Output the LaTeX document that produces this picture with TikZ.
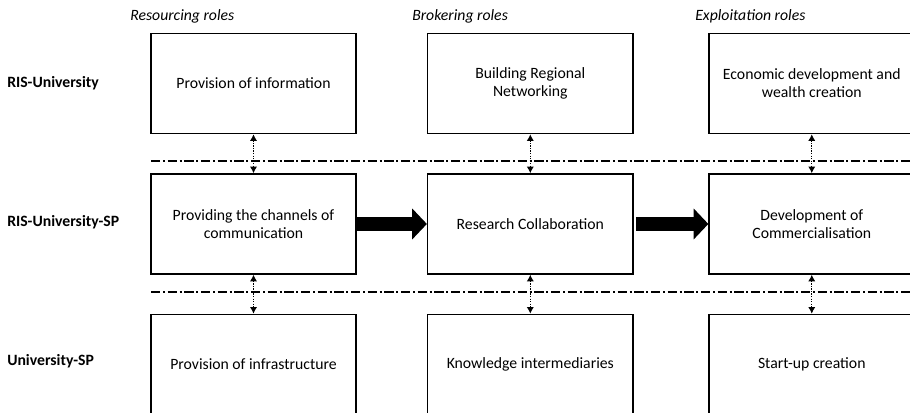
\documentclass[tikz,border=0pt]{standalone}
\usepackage{fontspec}
\setmainfont{Carlito}
\usetikzlibrary{arrows.meta,positioning}

\begin{document}
\begin{tikzpicture}[x=0.75pt,y=-0.75pt,node distance=29.25pt and 52.5pt,
  every node/.append style={font=\fontsize{11.8}{13.5}\selectfont},
  role/.style={draw, line width=1.1pt, minimum width=154pt, minimum height=75pt, align=center, inner sep=2pt},
  rowlab/.style={anchor=west, inner sep=0pt, font=\fontsize{11.8}{13.5}\selectfont\bfseries},
  colhead/.style={anchor=west, inner sep=0pt, font=\fontsize{11.8}{13.5}\selectfont\itshape},
  link/.style={densely dotted, line width=0.9pt, {Latex[length=5pt,width=5.5pt]}-{Latex[length=5pt,width=5.5pt]}},
  flow/.style={line width=10.5pt, -{Triangle[length=11pt,width=22.5pt]}},
  sep/.style={line width=1pt, dash pattern=on 7pt off 2pt on 1.5pt off 2pt}]
  \useasboundingbox (0,0) rectangle (910,412);
  % column headers and row labels
  \node [colhead] (h1) at (130,16) {Resourcing roles};
  \node [colhead] (h2) at (412,16) {Brokering roles};
  \node [colhead] (h3) at (695,16) {Exploitation roles};
  \node [rowlab] (r1) at (7,83.5)  {RIS-University};
  \node [rowlab] (r2) at (7,222.5) {RIS-University-SP};
  \node [rowlab] (r3) at (7,361.5) {University-SP};
  % boxes
  \node [role] (p1) at (253.5,83.5) {Provision of information};
  \node [role, right=of p1] (p2) {Building Regional\\Networking};
  \node [role, right=56pt of p2] (p3) {Economic development and\\wealth creation};
  \node [role, below=of p1] (p4) {Providing the channels of\\communication};
  \node [role, below=of p2] (p5) {Research Collaboration};
  \node [role, below=of p3] (p6) {Development of\\Commercialisation};
  \node [role, below=of p4] (p7) {Provision of infrastructure};
  \node [role, below=of p5] (p8) {Knowledge intermediaries};
  \node [role, below=of p6] (p9) {Start-up creation};
  % separators
  \coordinate (s1a) at (151,161);
  \coordinate (s1b) at (910,161);
  \coordinate (s2a) at (151,292);
  \coordinate (s2b) at (910,292);
  \draw [sep] (s1a) -- (s1b);
  \draw [sep] (s2a) -- (s2b);
  % links
  \draw [link] (p1) -- (p4);
  \draw [link] (p2) -- (p5);
  \draw [link] (p3) -- (p6);
  \draw [link] (p4) -- (p7);
  \draw [link] (p5) -- (p8);
  \draw [link] (p6) -- (p9);
  \draw [flow] (p4) -- (p5);
  \draw [flow] ([xshift=2pt]p5.east) -- (p6);
\end{tikzpicture}
\end{document}
